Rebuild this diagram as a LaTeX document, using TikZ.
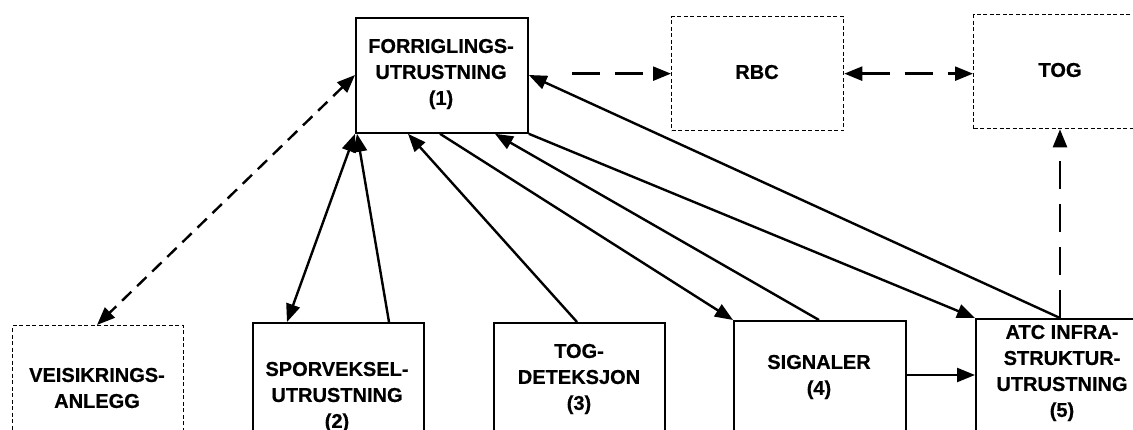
\documentclass[tikz,border=0pt]{standalone}
\usepackage{fontspec}
\setmainfont{Liberation Sans}[BoldFeatures={FakeBold=0.6}]
\usetikzlibrary{arrows.meta}
\begin{document}
\begin{tikzpicture}[x=1pt,y=-1pt,
  solidbox/.style={draw, line width=1.8pt, inner sep=0pt, anchor=north west},
  dashbox/.style={draw, line width=1.3pt, dash pattern=on 4pt off 2.5pt, inner sep=0pt, anchor=north west},
  txt/.style={font=\fontsize{20}{26}\selectfont\bfseries, align=center, inner sep=0pt},
  tip/.style={-{Triangle[length=18pt,width=14pt]}},
  conn/.style={line width=2.4pt, tip},
  biconn/.style={line width=2.4pt, {Triangle[length=18pt,width=14pt]}-{Triangle[length=18pt,width=14pt]}},
  longdash/.style={dash pattern=on 28pt off 15pt},
  shortdash/.style={dash pattern=on 13pt off 8pt}
]
\useasboundingbox (0,0) rectangle (1133,430);
\clip (0,0) rectangle (1133,430);
\fill[white] (0,0) rectangle (1133,430);

% boxes
\node[solidbox, minimum width=172pt, minimum height=115pt] (forrig) at (355,17) {};
\node[dashbox, minimum width=172pt, minimum height=114pt] (rbc) at (671,16) {};
\node[dashbox, minimum width=174pt, minimum height=114pt] (tog) at (973,14) {};
\node[dashbox, minimum width=171pt, minimum height=130pt] (veis) at (12,325) {};
\node[solidbox, minimum width=171pt, minimum height=130pt] (spor) at (252,322) {};
\node[solidbox, minimum width=171pt, minimum height=130pt] (togdet) at (493,322) {};
\node[solidbox, minimum width=172pt, minimum height=130pt] (sig) at (733,320) {};
\node[solidbox, minimum width=174pt, minimum height=130pt] (atc) at (975,318) {};

% texts
\node[txt] (t1) at (441,74) {FORRIGLINGS-\\UTRUSTNING\\(1)};
\node[txt] (trbc) at (757,72) {RBC};
\node[txt] (ttog) at (1060,70) {TOG};
\node[txt] (tveis) at (97,388) {VEISIKRINGS-\\ANLEGG};
\node[txt] (t2) at (337,397) {SPORVEKSEL-\\UTRUSTNING\\(2)};
\node[txt] (t3) at (579,379) {TOG-\\DETEKSJON\\(3)};
\node[txt] (t4) at (819,377) {SIGNALER\\(4)};
\node[txt] (t5) at (1062,373) {ATC INFRA-\\STRUKTUR-\\UTRUSTNING\\(5)};

% connectors
\draw[biconn] ([xshift=35pt]spor.north west) -- (forrig.south west);
\draw[conn] ([xshift=137pt]spor.north west) -- ([xshift=2pt]forrig.south west);
\draw[conn] ([xshift=84pt]togdet.north west) -- ([xshift=53pt]forrig.south west);
\draw[conn] ([xshift=85pt]forrig.south west) -- (sig.north west);
\draw[conn] ([xshift=86pt]sig.north west) -- ([xshift=140pt]forrig.south west);
\draw[conn] (forrig.south east) -- (atc.north west);
\draw[conn] ([xshift=85pt]atc.north west) -- ([yshift=-58pt]forrig.north east);
\draw[conn] ([yshift=-55pt]sig.north east) coordinate (s4) -- (s4 -| atc.west);

\draw[conn, longdash, shorten <=28pt, dash phase=28pt] (forrig.east |- rbc.west) -- (rbc.west);
\draw[biconn, longdash] (rbc.east) -- (rbc.east -| tog.west);
\draw[conn, longdash] ([xshift=85pt]atc.north west) coordinate (a5) -- (a5 |- tog.south);
\draw[biconn, shortdash] ([yshift=-58pt]forrig.north west) -- ([xshift=85pt]veis.north west);
\end{tikzpicture}
\end{document}
